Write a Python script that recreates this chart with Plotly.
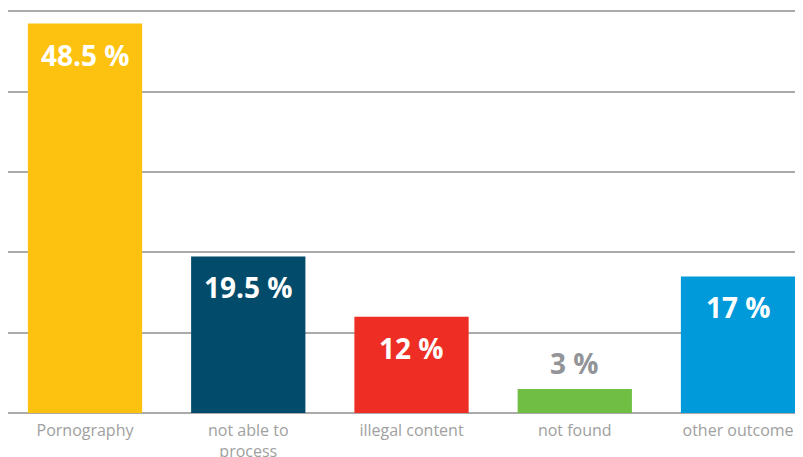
import plotly.graph_objects as go

categories = ["Pornography", "not able to<br>process", "illegal content", "not found", "other outcome"]
values = [48.5, 19.5, 12, 3, 17]
labels = ["48.5 %", "19.5 %", "12 %", "3 %", "17 %"]
colors = ["#FDC20F", "#034B6B", "#EE2E24", "#71BE44", "#009ADA"]

fig = go.Figure()
fig.add_trace(go.Bar(
    x=list(range(len(categories))), y=values,
    marker=dict(color=colors, line=dict(width=0)),
    width=0.7, hoverinfo="skip",
))

for i, (v, t) in enumerate(zip(values, labels)):
    if v < 5:
        fig.add_annotation(x=i, y=v, text="<b>%s</b>" % t, showarrow=False,
                           yanchor="bottom", yshift=5,
                           font=dict(color="#929497", size=28, family="Open Sans"))
    else:
        fig.add_annotation(x=i, y=v, text="<b>%s</b>" % t, showarrow=False,
                           yanchor="top", yshift=-10,
                           font=dict(color="white", size=28, family="Open Sans"))

fig.update_layout(
    width=803, height=457,
    margin=dict(l=0, r=0, t=0, b=52),
    paper_bgcolor="white", plot_bgcolor="white",
    showlegend=False,
    xaxis=dict(
        range=[-0.4717, 4.447],
        tickmode="array", tickvals=list(range(len(categories))), ticktext=categories,
        tickfont=dict(color="#A0A0A0", size=16, family="Open Sans"),
        showgrid=False, zeroline=False, showline=False, ticks="",
        ticklabelstandoff=6,
    ),
    yaxis=dict(
        range=[0, 50.43], tickvals=[0, 10, 20, 30, 40, 50],
        showticklabels=False, showgrid=True, gridcolor="#AAAAAA", gridwidth=1.5,
        zeroline=True, zerolinecolor="#AAAAAA", zerolinewidth=1.5,
        layer="below traces",
    ),
)

fig.write_html("out.html")
